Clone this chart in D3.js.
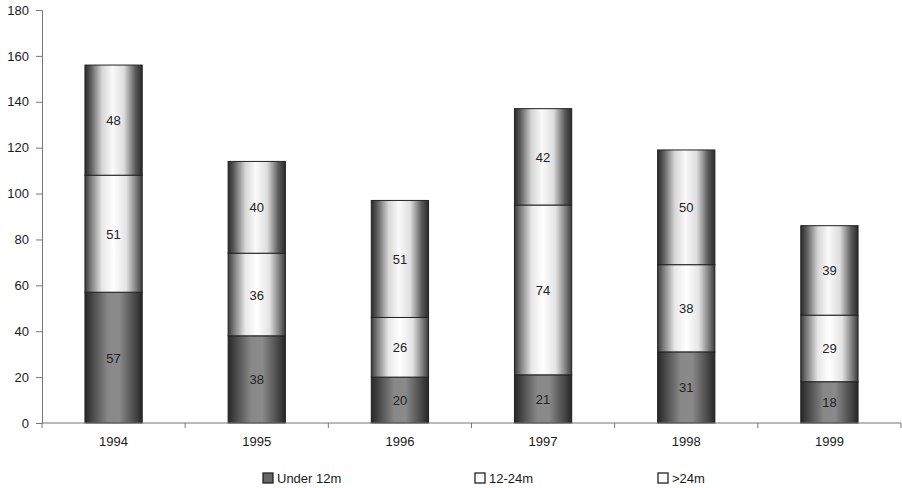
<!DOCTYPE html>
<html>
<head>
<meta charset="utf-8">
<script src="https://cdn.jsdelivr.net/npm/d3@7/dist/d3.min.js"></script>
<style>
  html, body { margin: 0; padding: 0; background: #fff; }
  svg { display: block; font-family: "Liberation Sans", Arial, sans-serif; }
</style>
</head>
<body>
<svg id="chart" width="902" height="488"></svg>
<script>
// Stacked columns by year
const years = ["1994", "1995", "1996", "1997", "1998", "1999"];
const seriesNames = ["Under 12m", "12-24m", ">24m"];
const under12 = [57, 38, 20, 21, 31, 18];
const m12to24 = [51, 36, 26, 74, 38, 29];
const over24 = [48, 40, 51, 42, 50, 39];
const yTicks = [0, 20, 40, 60, 80, 100, 120, 140, 160, 180];

const rows = years.map((y, i) => ({ year: y, "Under 12m": under12[i], "12-24m": m12to24[i], ">24m": over24[i] }));

const svg = d3.select("#chart");
const x0 = 42, x1 = 901, yBase = 423, yTop = 10;

const x = d3.scaleBand().domain(years).range([x0, x1]).paddingInner(0.6).paddingOuter(0.3);
const y = d3.scaleLinear().domain([0, 180]).range([yBase, yTop]);

// cylinder-style shading for the columns
const defs = svg.append("defs");
function cyl(id, stops) {
  const g = defs.append("linearGradient").attr("id", id).attr("x1", "0%").attr("x2", "100%").attr("y1", "0%").attr("y2", "0%");
  stops.forEach(([o, c]) => g.append("stop").attr("offset", o).attr("stop-color", c));
}
cyl("gDark", [["0%", "#262626"], ["12%", "#454545"], ["40%", "#888888"], ["60%", "#8a8a8a"], ["88%", "#464646"], ["100%", "#262626"]]);
cyl("gMid", [["0%", "#3a3a3a"], ["10%", "#7a7a7a"], ["30%", "#e8e8e8"], ["50%", "#ffffff"], ["72%", "#e4e4e4"], ["90%", "#7a7a7a"], ["100%", "#3a3a3a"]]);
cyl("gTop", [["0%", "#2a2a2a"], ["10%", "#5a5a5a"], ["30%", "#d6d6d6"], ["48%", "#fafafa"], ["68%", "#dedede"], ["88%", "#5a5a5a"], ["100%", "#2a2a2a"]]);
const fills = { "Under 12m": "url(#gDark)", "12-24m": "url(#gMid)", ">24m": "url(#gTop)" };

const stack = d3.stack().keys(seriesNames)(rows);

// y axis
const yAxis = svg.append("g").attr("transform", `translate(${x0},0)`)
  .call(d3.axisLeft(y).tickValues(yTicks).tickSize(6).tickPadding(7));
yAxis.select(".domain").attr("stroke", "#777");
yAxis.selectAll(".tick line").attr("stroke", "#777");
yAxis.selectAll(".tick text").attr("fill", "#1a1a1a").style("font-size", "13px");

// bars
const layers = svg.append("g").selectAll("g").data(stack).join("g")
  .attr("fill", d => fills[d.key]);
layers.selectAll("rect").data(d => d).join("rect")
  .attr("x", d => x(d.data.year))
  .attr("width", x.bandwidth())
  .attr("y", d => y(d[1]))
  .attr("height", d => y(d[0]) - y(d[1]))
  .attr("stroke", "#222").attr("stroke-width", 1);

// value labels
stack.forEach(layer => {
  svg.append("g").selectAll("text").data(layer).join("text")
    .attr("x", d => x(d.data.year) + x.bandwidth() / 2)
    .attr("y", d => (y(d[0]) + y(d[1])) / 2 + 5)
    .attr("text-anchor", "middle")
    .attr("fill", "#222")
    .style("font-size", "13px")
    .text(d => d[1] - d[0]);
});

// x axis with ticks between categories
const xa = svg.append("g");
xa.append("line").attr("x1", x0).attr("x2", x1).attr("y1", yBase).attr("y2", yBase).attr("stroke", "#777");
const step = x.step();
xa.selectAll("line.sep").data(d3.range(years.length + 1)).join("line")
  .attr("class", "sep")
  .attr("x1", i => x0 + i * step).attr("x2", i => x0 + i * step)
  .attr("y1", yBase).attr("y2", yBase + 5).attr("stroke", "#777");
xa.selectAll("text").data(years).join("text")
  .attr("x", d => x(d) + x.bandwidth() / 2)
  .attr("y", yBase + 23)
  .attr("text-anchor", "middle")
  .attr("fill", "#1a1a1a")
  .style("font-size", "13px")
  .text(d => d);

// legend
const legendX = [263, 475, 658];
const legend = svg.append("g").selectAll("g").data(seriesNames).join("g")
  .attr("transform", (d, i) => `translate(${legendX[i]},472)`);
legend.append("rect").attr("x", 0).attr("y", 1).attr("width", 10).attr("height", 10)
  .attr("fill", (d, i) => i === 0 ? "#666" : "#fff").attr("stroke", "#222").attr("stroke-width", 1.3);
legend.append("text").attr("x", 14).attr("y", 11)
  .attr("fill", "#1a1a1a").style("font-size", "13px").text(d => d);
</script>
</body>
</html>
